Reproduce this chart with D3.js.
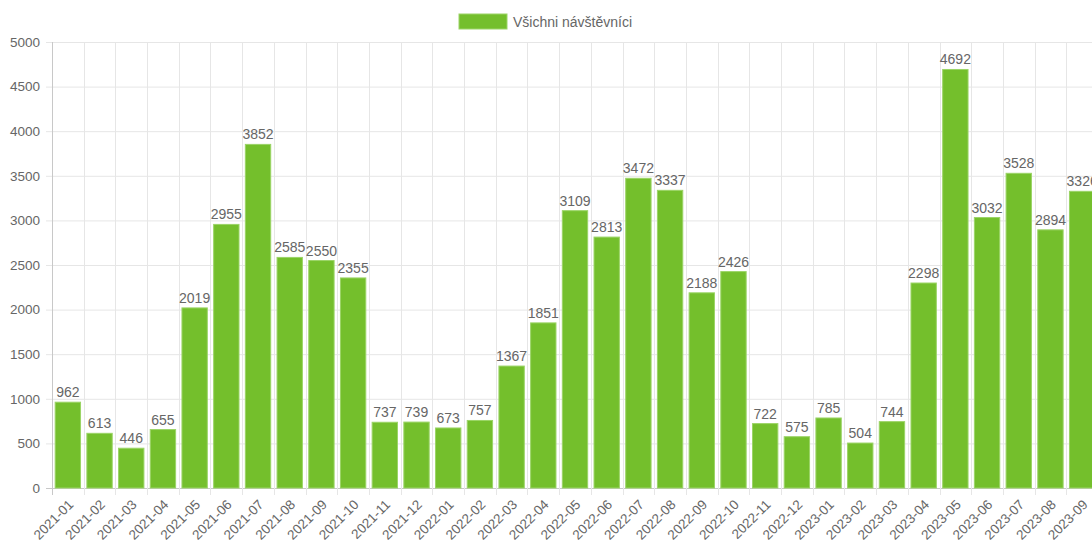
<!DOCTYPE html>
<html>
<head>
<meta charset="utf-8">
<script src="https://cdn.jsdelivr.net/npm/d3@7"></script>
<style>
  body { margin: 0; background: #fff; overflow: hidden; }
  svg { display: block; font-family: "Liberation Sans", Arial, sans-serif; }
</style>
</head>
<body>
<div id="chart-area"></div>
<script>
var months = ["2021-01","2021-02","2021-03","2021-04","2021-05","2021-06","2021-07","2021-08","2021-09","2021-10","2021-11","2021-12",
  "2022-01","2022-02","2022-03","2022-04","2022-05","2022-06","2022-07","2022-08","2022-09","2022-10","2022-11","2022-12",
  "2023-01","2023-02","2023-03","2023-04","2023-05","2023-06","2023-07","2023-08","2023-09"]
var visitors = [962,613,446,655,2019,2955,3852,2585,2550,2355,737,739,
  673,757,1367,1851,3109,2813,3472,3337,2188,2426,722,575,
  785,504,744,2298,4692,3032,3528,2894,3326]
var yTicks = [0,500,1000,1500,2000,2500,3000,3500,4000,4500,5000]
var seriesName = "Všichni návštěvníci"

var margin = {top: 42, left: 52}
var width = 1046
var height = 446

var svg = d3.select("#chart-area")
  .append("svg")
  .attr("width", 1092)
  .attr("height", 541)

var g = svg.append("g")
  .attr("transform", "translate(" + margin.left + "," + margin.top + ")")

var x = d3.scaleBand()
  .domain(months)
  .range([0, width])
  .paddingInner(0.2)
  .paddingOuter(0.1)

var y = d3.scaleLinear()
  .domain([0, 5000])
  .range([height, 0])

var step = x.step()

// horizontal grid
g.append("g").selectAll("line")
  .data(yTicks)
  .enter().append("line")
  .attr("x1", -6).attr("x2", width)
  .attr("y1", d => y(d) + 0.5).attr("y2", d => y(d) + 0.5)
  .attr("stroke", d => d === 0 ? "#c8c8c8" : "#e6e6e6")

// vertical grid at category boundaries
g.append("g").selectAll("line")
  .data(d3.range(months.length + 1))
  .enter().append("line")
  .attr("x1", d => Math.round(d * step) + 0.5).attr("x2", d => Math.round(d * step) + 0.5)
  .attr("y1", 0).attr("y2", height + 7)
  .attr("stroke", d => d === 0 ? "#c8c8c8" : "#e6e6e6")

// y labels
g.append("g").selectAll("text")
  .data(yTicks)
  .enter().append("text")
  .attr("x", -12)
  .attr("y", d => y(d))
  .attr("dy", "0.35em")
  .attr("text-anchor", "end")
  .attr("font-size", "13.5px")
  .attr("fill", "#666")
  .text(d => d)

// x labels
g.append("g").selectAll("text")
  .data(months)
  .enter().append("text")
  .attr("transform", d => "translate(" + (x(d) + x.bandwidth() / 2 + 3) + "," + (height + 14) + ") rotate(-45)")
  .attr("text-anchor", "end")
  .attr("dy", "0.35em")
  .attr("font-size", "13.5px")
  .attr("fill", "#666")
  .text(d => d)

// bars
g.append("g").selectAll("rect")
  .data(visitors)
  .enter().append("rect")
  .attr("x", (d, i) => x(months[i]))
  .attr("y", d => y(d))
  .attr("width", x.bandwidth())
  .attr("height", d => height - y(d))
  .attr("fill", "#74bf2c")
  .attr("stroke", "#9bd466")
  .attr("stroke-width", 1)

// value labels
g.append("g").selectAll("text")
  .data(visitors)
  .enter().append("text")
  .attr("x", (d, i) => x(months[i]) + x.bandwidth() / 2)
  .attr("y", d => y(d) - 5)
  .attr("text-anchor", "middle")
  .attr("font-size", "14px")
  .attr("fill", "#666")
  .text(d => d)

// legend
var legend = svg.append("g")
legend.append("rect")
  .attr("x", 459).attr("y", 14)
  .attr("width", 48).attr("height", 15)
  .attr("fill", "#74bf2c")
  .attr("stroke", "#9bd466")
legend.append("text")
  .attr("x", 513).attr("y", 22)
  .attr("dy", "0.35em")
  .attr("font-size", "14px")
  .attr("fill", "#666")
  .text(seriesName)
</script>
</body>
</html>
